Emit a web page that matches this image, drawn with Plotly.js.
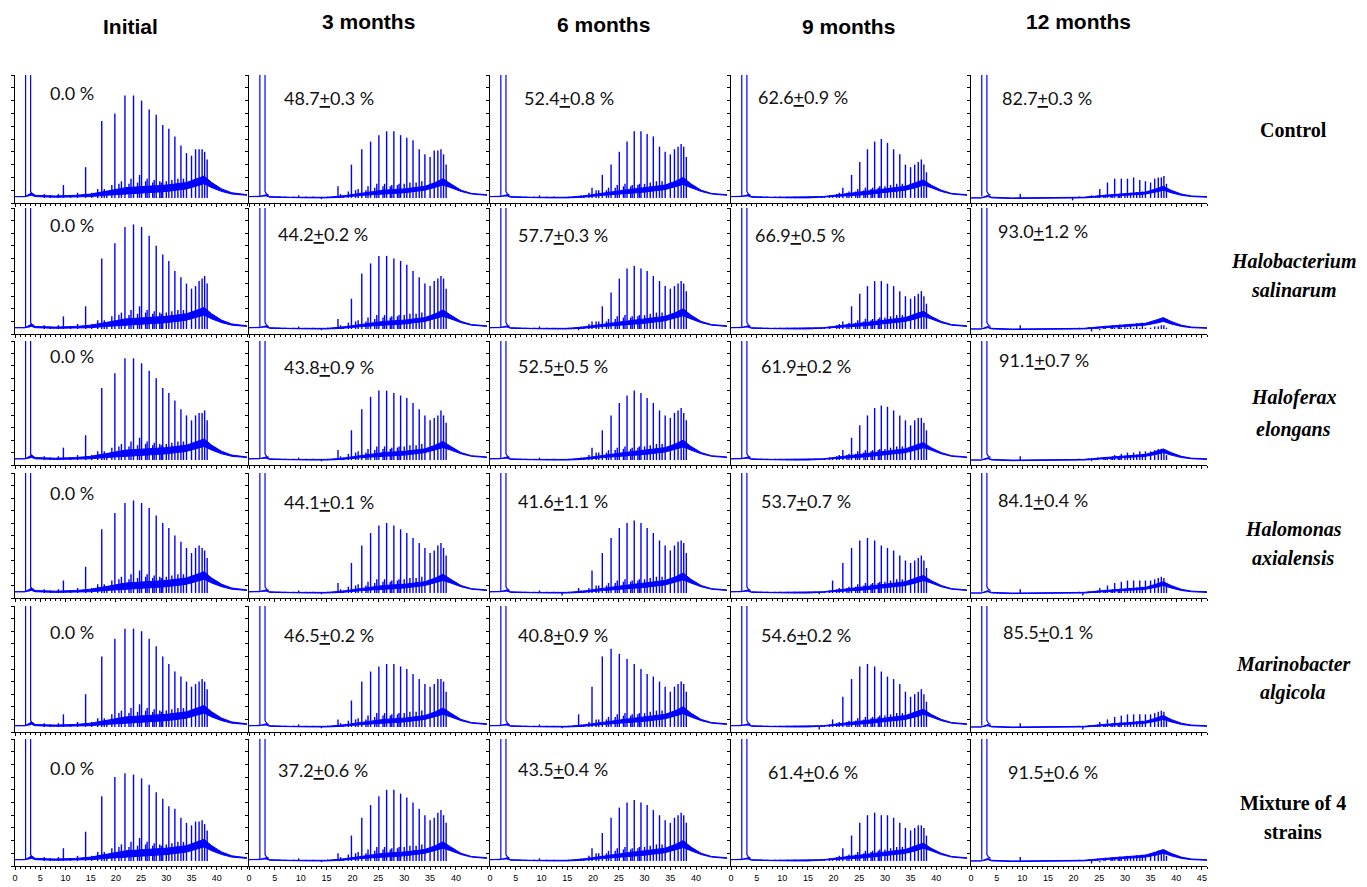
<!DOCTYPE html>
<html><head><meta charset="utf-8">
<script src="https://cdn.plot.ly/plotly-3.0.1.min.js"></script>
<style>html,body{margin:0;padding:0;background:#fff}#chart{width:1367px;height:887px}</style>
</head><body><div id="chart"></div>
<script>
// ---------------- DATA ----------------
const columnTitles = ["Initial", "3 months", "6 months", "9 months", "12 months"];
const rowTitles = [["Control"], ["Halobacterium", "salinarum"], ["Haloferax", "elongans"],
                   ["Halomonas", "axialensis"], ["Marinobacter", "algicola"], ["Mixture of 4", "strains"]];
const rowItalic = [false, true, true, true, true, false];

// removal (%) mean and SD per row, columns: 3, 6, 9, 12 months (Initial = 0.0 %)
const removalMean = [["48.7", "52.4", "62.6", "82.7"], ["44.2", "57.7", "66.9", "93.0"], ["43.8", "52.5", "61.9", "91.1"],
                     ["44.1", "41.6", "53.7", "84.1"], ["46.5", "40.8", "54.6", "85.5"], ["37.2", "43.5", "61.4", "91.5"]];
const removalSD = [["0.3", "0.8", "0.9", "0.3"], ["0.2", "0.3", "0.5", "1.2"], ["0.9", "0.5", "0.2", "0.7"],
                   ["0.1", "1.1", "0.7", "0.4"], ["0.2", "0.9", "0.2", "0.1"], ["0.6", "0.4", "0.6", "0.6"]];

// retention times (min) of the main n-alkane peaks
const peakRT = [14.0, 17.2, 19.8, 21.8, 23.5, 25.1, 26.6, 28.0, 29.3, 30.5, 31.7, 32.9, 34.0, 35.0, 35.8, 36.5, 37.1, 37.6, 38.1];

// main peak heights (% of panel height), one list per column: Initial, 3, 6, 9, 12 months
const heightsControl = [
  [28, 64, 70, 84, 84, 80, 73, 69, 61, 58, 52, 45, 39, 37, 42, 42, 42, 40, 34],
  [3, 13, 30, 42, 48, 53, 56, 56, 53, 51, 49, 42, 38, 36, 41, 41, 42, 38, 30],
  [0, 4, 12, 22, 30, 40, 48, 56, 56, 54, 52, 44, 40, 38, 42, 44, 46, 44, 36],
  [0, 0, 5, 12, 22, 32, 42, 48, 50, 47, 42, 38, 30, 28, 30, 32, 34, 30, 24],
  [0, 0, 2, 4, 6, 11, 16, 19, 19, 19, 20, 18, 17, 16, 19, 20, 20, 21, 15]];
const heightsHalobacterium = [
  [22, 60, 72, 85, 87, 85, 78, 70, 63, 58, 50, 45, 40, 36, 38, 42, 44, 46, 40],
  [3, 12, 28, 48, 56, 62, 62, 60, 58, 55, 50, 45, 40, 38, 42, 44, 46, 44, 36],
  [0, 3, 10, 22, 33, 44, 52, 54, 52, 50, 46, 42, 38, 36, 38, 40, 42, 40, 34],
  [0, 0, 4, 10, 22, 32, 38, 42, 42, 40, 38, 34, 30, 28, 30, 32, 34, 30, 24],
  [0, 0, 0, 0, 2, 3, 4, 5, 5, 5, 5, 5, 5, 5, 6, 6, 7, 7, 5]];
const heightsHaloferax = [
  [24, 62, 74, 86, 86, 82, 76, 70, 62, 58, 52, 45, 40, 36, 40, 42, 42, 44, 36],
  [3, 12, 28, 45, 55, 60, 60, 58, 56, 54, 50, 45, 40, 36, 38, 40, 44, 40, 34],
  [0, 5, 14, 28, 40, 50, 56, 60, 58, 54, 50, 44, 40, 38, 42, 44, 46, 42, 36],
  [0, 0, 5, 12, 22, 32, 40, 46, 48, 47, 44, 40, 36, 32, 36, 38, 38, 34, 28],
  [0, 0, 0, 0, 3, 4, 6, 8, 9, 10, 10, 11, 11, 11, 12, 13, 13, 12, 8]];
const heightsHalomonas = [
  [25, 55, 68, 76, 78, 76, 72, 66, 60, 56, 50, 45, 40, 36, 40, 42, 40, 38, 32],
  [3, 12, 28, 42, 52, 58, 60, 58, 55, 52, 48, 44, 40, 36, 38, 42, 44, 40, 34],
  [2, 8, 22, 36, 48, 56, 60, 62, 60, 56, 52, 46, 42, 38, 42, 45, 46, 44, 36],
  [0, 3, 14, 28, 40, 46, 48, 46, 42, 40, 38, 34, 30, 28, 30, 32, 34, 30, 24],
  [0, 0, 0, 2, 4, 8, 10, 12, 13, 14, 14, 14, 14, 14, 15, 16, 17, 16, 12]];
const heightsMarinobacter = [
  [30, 60, 74, 82, 82, 80, 74, 68, 60, 54, 48, 44, 40, 36, 38, 40, 42, 40, 34],
  [3, 10, 25, 40, 48, 52, 54, 54, 52, 50, 46, 42, 38, 36, 38, 42, 42, 40, 32],
  [3, 14, 36, 60, 66, 62, 58, 54, 50, 46, 44, 40, 36, 32, 36, 38, 40, 38, 32],
  [0, 2, 10, 28, 42, 52, 54, 52, 48, 44, 42, 38, 32, 28, 30, 32, 34, 30, 24],
  [0, 0, 0, 2, 4, 8, 10, 12, 13, 14, 14, 14, 14, 14, 15, 16, 17, 16, 12]];
const heightsMixture = [
  [27, 55, 70, 73, 72, 69, 64, 58, 53, 47, 45, 38, 34, 32, 35, 35, 36, 33, 28],
  [3, 10, 24, 38, 48, 55, 60, 60, 57, 54, 50, 45, 40, 36, 38, 42, 44, 40, 34],
  [0, 4, 14, 26, 38, 46, 50, 52, 50, 48, 44, 40, 36, 34, 38, 40, 42, 40, 34],
  [0, 0, 5, 14, 24, 34, 40, 42, 40, 40, 38, 34, 30, 28, 30, 32, 32, 30, 24],
  [0, 0, 0, 0, 2, 3, 4, 6, 7, 8, 8, 8, 9, 10, 11, 12, 12, 12, 8]];

// minor peaks (retention time) and their heights per column
const minorRT = [5.8, 7.0, 8.6, 9.6, 11.0, 12.4, 15.2, 16.4, 17.7, 18.2, 19.2, 20.6, 21.1, 22.6, 23.0, 24.3, 24.7, 25.9, 26.2, 27.3, 27.6, 28.7, 29.0, 30.0, 31.1, 32.3, 33.4];
const minorHeights = [
  [7, 6, 7, 14, 6, 8, 8, 11, 11, 9, 14, 15, 17, 15, 19, 16, 22, 17, 19, 16, 18, 17, 16, 17, 18, 19, 19],
  [5, 5, 5, 6, 5, 5, 5, 5, 7, 6, 9, 10, 11, 10, 13, 12, 15, 13, 15, 13, 14, 14, 15, 15, 16, 16, 17],
  [5, 5, 5, 6, 5, 5, 5, 5, 6, 6, 8, 10, 10, 10, 12, 12, 14, 13, 15, 13, 14, 14, 15, 15, 16, 17, 17],
  [5, 5, 5, 5, 5, 5, 5, 5, 5, 5, 6, 7, 8, 8, 9, 9, 11, 10, 12, 11, 12, 12, 13, 13, 14, 15, 15],
  [4, 4, 4, 7, 4, 4, 4, 4, 4, 4, 4.5, 4.5, 5, 5, 5.5, 5.5, 6, 6, 6.5, 6.5, 7, 7, 7.5, 7.5, 8, 8.5, 9]];

// unresolved hump (lower and upper edge of the dense band), per column
const humpRT = [0, 2.0, 3.3, 4, 8, 12, 15, 18, 22, 26, 30, 34, 36, 37.5, 39, 41, 43, 46];
const humpLow = [
  [5, 5, 6, 5, 4.5, 4.5, 5, 6, 7, 8, 9, 11, 13, 15, 12, 9, 7, 6],
  [5, 5, 5.5, 4.5, 4, 4, 4, 4.5, 6, 7, 8, 10, 12, 14, 12, 9, 7, 6],
  [5, 5, 5.5, 4.5, 4, 4, 4, 4.5, 6, 7, 8.5, 10.5, 12.5, 14.5, 12, 9, 7, 6],
  [5, 5, 5.5, 4.5, 4, 4, 4, 4.5, 5.5, 6.5, 8, 10, 12, 14, 12, 9, 7, 6],
  [4, 4, 5, 4, 3.5, 3.5, 3.5, 3.5, 4, 5, 6, 7, 8.5, 10, 8, 6, 5, 4.5]];
const humpHigh = [
  [5, 5, 8, 6, 5.5, 6, 7, 9, 12, 13, 14, 16, 19, 21, 16, 11, 8, 6.5],
  [5, 5, 6.5, 5, 4.5, 4.5, 4.5, 5.5, 8, 10, 11, 13, 16, 19, 15, 10, 7.5, 6.5],
  [5, 5, 6.5, 5, 4.5, 4.5, 4.5, 5.5, 8, 10, 12, 14, 17, 20, 15, 10, 7.5, 6.5],
  [5, 5, 6.5, 5, 4.5, 4.5, 4.5, 5, 7, 9, 11, 13, 16, 18, 14, 10, 7.5, 6.5],
  [4, 4, 6, 4.5, 4, 4, 4, 4, 4.5, 6, 7, 8.5, 11, 13, 10, 7, 5.5, 5]];

// solvent peak (off scale)
const solventRT = [2.1, 2.1, 3.1, 3.1, 3.4, 3.8];
const solventY = [5, 150, 150, 9, 7, 6];

const tickValsX = [0, 5, 10, 15, 20, 25, 30, 35, 40, 45];

// ---------------- LAYOUT / DRAWING ----------------
const allHeights = [heightsControl, heightsHalobacterium, heightsHaloferax, heightsHalomonas, heightsMarinobacter, heightsMixture];
const W = 1367, H = 887;
const colL = [15, 249, 490, 731, 971], colR = [247, 487, 727, 967, 1207];
const rowT = [75, 208, 341, 473, 606, 739], rowB = [203, 334, 465, 598, 732, 866];
const BLUE = '#0000ff';
const traces = [];
const layout = {
  width: W, height: H, margin: {l: 0, r: 0, t: 0, b: 0},
  paper_bgcolor: '#fff', plot_bgcolor: 'rgba(0,0,0,0)', showlegend: false,
  annotations: []
};
const pctPos = [
  [[72, 93], [329, 98], [569, 98], [803, 97], [1047, 98]],
  [[72, 225], [323, 234], [563, 235], [800, 235], [1043, 231]],
  [[72, 356], [329, 367], [563, 366], [806, 366], [1044, 360]],
  [[72, 493], [329, 502], [563, 501], [806, 501], [1043, 500]],
  [[72, 632], [329, 635], [563, 635], [806, 635], [1048, 632]],
  [[72, 768], [323, 770], [563, 769], [813, 772], [1053, 772]]];

for (let r = 0; r < 6; r++) {
  for (let c = 0; c < 5; c++) {
    const i = r * 5 + c;
    const xa = i === 0 ? 'x' : 'x' + (i + 1), ya = i === 0 ? 'y' : 'y' + (i + 1);
    const xk = i === 0 ? 'xaxis' : 'xaxis' + (i + 1), yk = i === 0 ? 'yaxis' : 'yaxis' + (i + 1);
    // hump band
    traces.push({x: humpRT, y: humpLow[c], xaxis: xa, yaxis: ya, mode: 'lines', line: {color: BLUE, width: 1}, hoverinfo: 'skip'});
    traces.push({x: humpRT, y: humpHigh[c], xaxis: xa, yaxis: ya, mode: 'lines', fill: 'tonexty', fillcolor: BLUE, line: {color: BLUE, width: 1}, hoverinfo: 'skip'});
    // spikes
    const sx = [], sy = [];
    const hs = allHeights[r][c];
    peakRT.forEach((t, k) => { if (hs[k] > 0) { sx.push(t, t, null); sy.push(4, hs[k], null); } });
    minorRT.forEach((t, k) => { sx.push(t, t, null); sy.push(4, minorHeights[c][k], null); });
    traces.push({x: sx, y: sy, xaxis: xa, yaxis: ya, mode: 'lines', line: {color: BLUE, width: 1.4}, hoverinfo: 'skip'});
    // solvent
    traces.push({x: solventRT, y: solventY, xaxis: xa, yaxis: ya, mode: 'lines', line: {color: BLUE, width: 1.2}, hoverinfo: 'skip'});

    const bottom = r === 5;
    layout[xk] = {
      domain: [colL[c] / W, colR[c] / W], anchor: ya, range: [0, 46],
      showline: true, linecolor: '#000', linewidth: 1, mirror: false,
      showgrid: false, zeroline: false,
      tickmode: 'array', tickvals: tickValsX,
      ticktext: tickValsX.map(v => (c < 4 && v === 45) ? '' : String(v)),
      ticks: 'outside', ticklen: 3, tickcolor: '#000', tickwidth: 1,
      minor: {tickmode: 'linear', tick0: 0, dtick: 1, ticks: 'outside', ticklen: 2, tickcolor: '#000'},
      showticklabels: bottom,
      tickfont: {family: 'Liberation Sans, Arial', size: 9, color: '#000'},
      fixedrange: true
    };
    layout[yk] = {
      domain: [1 - rowB[r] / H, 1 - rowT[r] / H], anchor: xa, range: [0, 100],
      showline: true, linecolor: '#000', linewidth: 1,
      showgrid: false, zeroline: false,
      tickmode: 'linear', tick0: 0, dtick: 10, ticks: 'outside', ticklen: 3, tickcolor: '#000',
      showticklabels: false, fixedrange: true
    };
    // percentage annotation
    const txt = c === 0 ? '0.0 %' :
      removalMean[r][c - 1] + '<span style="text-decoration:underline">+</span>' + removalSD[r][c - 1] + ' %';
    layout.annotations.push({
      xref: 'paper', yref: 'paper', x: pctPos[r][c][0] / W, y: 1 - pctPos[r][c][1] / H,
      xanchor: 'center', yanchor: 'middle', showarrow: false, text: txt,
      font: {family: 'Lato, Open Sans, sans-serif', size: 18, color: '#111'}
    });
  }
}
// column titles
const colTitlePos = [[130, 27], [368, 22], [603, 24], [848, 27], [1078, 22]];
columnTitles.forEach((t, c) => layout.annotations.push({
  xref: 'paper', yref: 'paper', x: colTitlePos[c][0] / W, y: 1 - colTitlePos[c][1] / H,
  xanchor: 'center', yanchor: 'middle', showarrow: false, text: '<b>' + t + '</b>',
  font: {family: 'Liberation Sans, Arial', size: 21, color: '#000'}
}));
// row titles
const rowTitleY = [[130], [261, 290], [398, 429], [529, 558], [664, 692], [803, 832]];
rowTitles.forEach((lines, r) => lines.forEach((t, k) => layout.annotations.push({
  xref: 'paper', yref: 'paper', x: 1293 / W, y: 1 - rowTitleY[r][k] / H,
  xanchor: 'center', yanchor: 'middle', showarrow: false,
  text: rowItalic[r] ? '<b><i>' + t + '</i></b>' : '<b>' + t + '</b>',
  font: {family: 'Liberation Serif, Times New Roman, serif', size: 20, color: '#000'}
})));

Plotly.newPlot('chart', traces, layout, {displayModeBar: false, staticPlot: true});
</script>
</body></html>
